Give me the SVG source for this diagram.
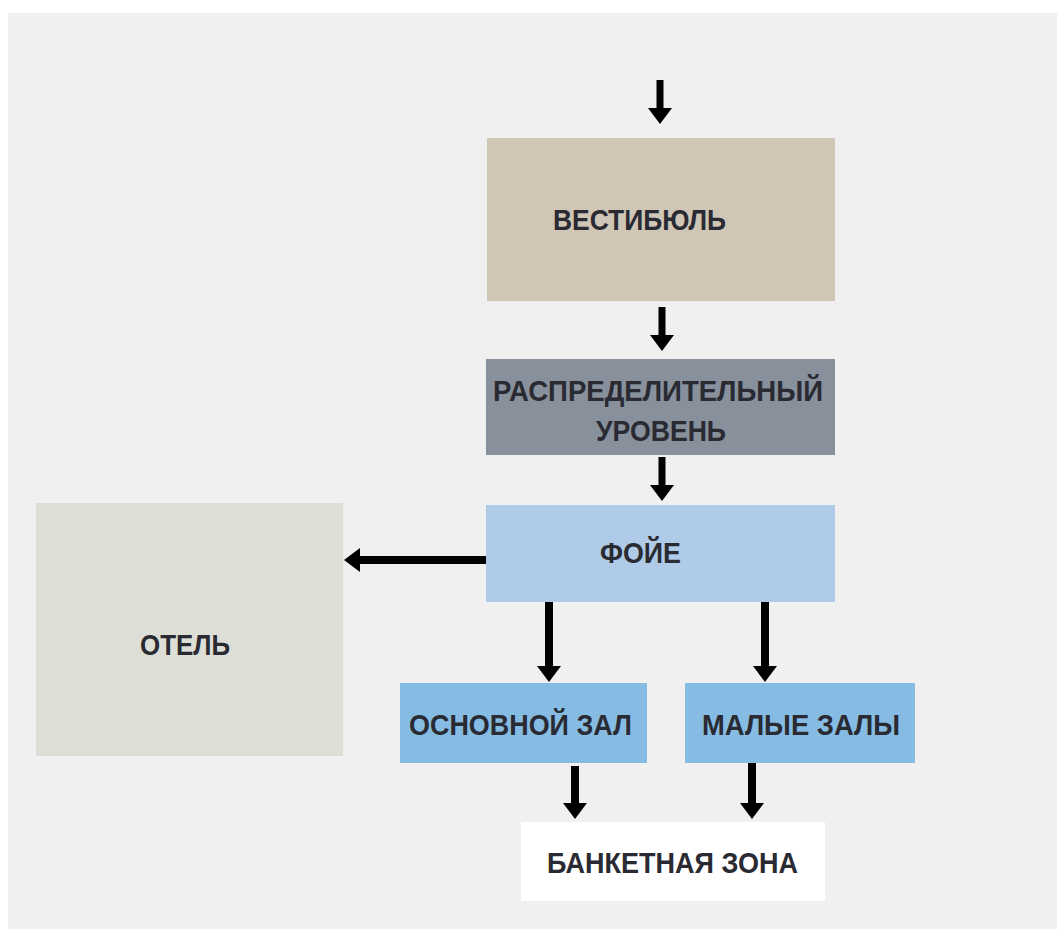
<svg xmlns="http://www.w3.org/2000/svg" width="1057" height="929" viewBox="0 0 1057 929">
<style>
.lbl{font-family:"Liberation Sans","DejaVu Sans",sans-serif;font-size:30px;font-weight:bold;fill:#2a2a33}
.ar{stroke:#000;stroke-width:8;fill:none;marker-end:url(#ah)}
</style>
<defs>
<marker id="ah" markerUnits="userSpaceOnUse" viewBox="0 0 16 24" markerWidth="16" markerHeight="24" refX="1" refY="12" orient="auto">
<path d="M0,0 L16,12 L0,24 Z" fill="#000"/>
</marker>
</defs>
<rect x="0" y="0" width="1057" height="929" fill="#ffffff"/>
<rect x="8" y="13" width="1049" height="916" fill="#f0f0f0"/>
<g id="vestibule">
<rect x="487" y="138" width="348" height="163" fill="#cfc6b6"/>
<text class="lbl" x="553" y="230" textLength="173" lengthAdjust="spacingAndGlyphs">ВЕСТИБЮЛЬ</text>
</g>
<g id="distribution">
<rect x="486" y="359" width="349" height="96" fill="#87909b"/>
<text class="lbl" x="493" y="401" textLength="330" lengthAdjust="spacingAndGlyphs">РАСПРЕДЕЛИТЕЛЬНЫЙ</text>
<text class="lbl" x="596" y="441" textLength="130" lengthAdjust="spacingAndGlyphs">УРОВЕНЬ</text>
</g>
<g id="foyer">
<rect x="486" y="505" width="349" height="97" fill="#b0cbe7"/>
<text class="lbl" x="600" y="563" textLength="81" lengthAdjust="spacingAndGlyphs">ФОЙЕ</text>
</g>
<g id="hotel">
<rect x="36" y="503" width="307" height="253" fill="#dddfd6"/>
<text class="lbl" x="140" y="655" textLength="90" lengthAdjust="spacingAndGlyphs">ОТЕЛЬ</text>
</g>
<g id="main-hall">
<rect x="400" y="683" width="247" height="80" fill="#86bce3"/>
<text class="lbl" x="409" y="735" textLength="223" lengthAdjust="spacingAndGlyphs">ОСНОВНОЙ ЗАЛ</text>
</g>
<g id="small-halls">
<rect x="685" y="683" width="230" height="80" fill="#86bce3"/>
<text class="lbl" x="702" y="735" textLength="198" lengthAdjust="spacingAndGlyphs">МАЛЫЕ ЗАЛЫ</text>
</g>
<g id="banquet">
<rect x="521" y="822" width="304" height="79" fill="#ffffff"/>
<text class="lbl" x="547" y="873" textLength="251" lengthAdjust="spacingAndGlyphs">БАНКЕТНАЯ ЗОНА</text>
</g>
<g id="connectors">
<path class="ar" style="stroke-width:7" d="M660,80 V109"/>
<path class="ar" style="stroke-width:7" d="M662,307 V336"/>
<path class="ar" style="stroke-width:7" d="M662,457 V486"/>
<path class="ar" d="M486,560 H359"/>
<path class="ar" d="M549,602 V667"/>
<path class="ar" d="M765,602 V667"/>
<path class="ar" d="M575,766 V804"/>
<path class="ar" d="M752,763 V804"/>
</g>
</svg>
